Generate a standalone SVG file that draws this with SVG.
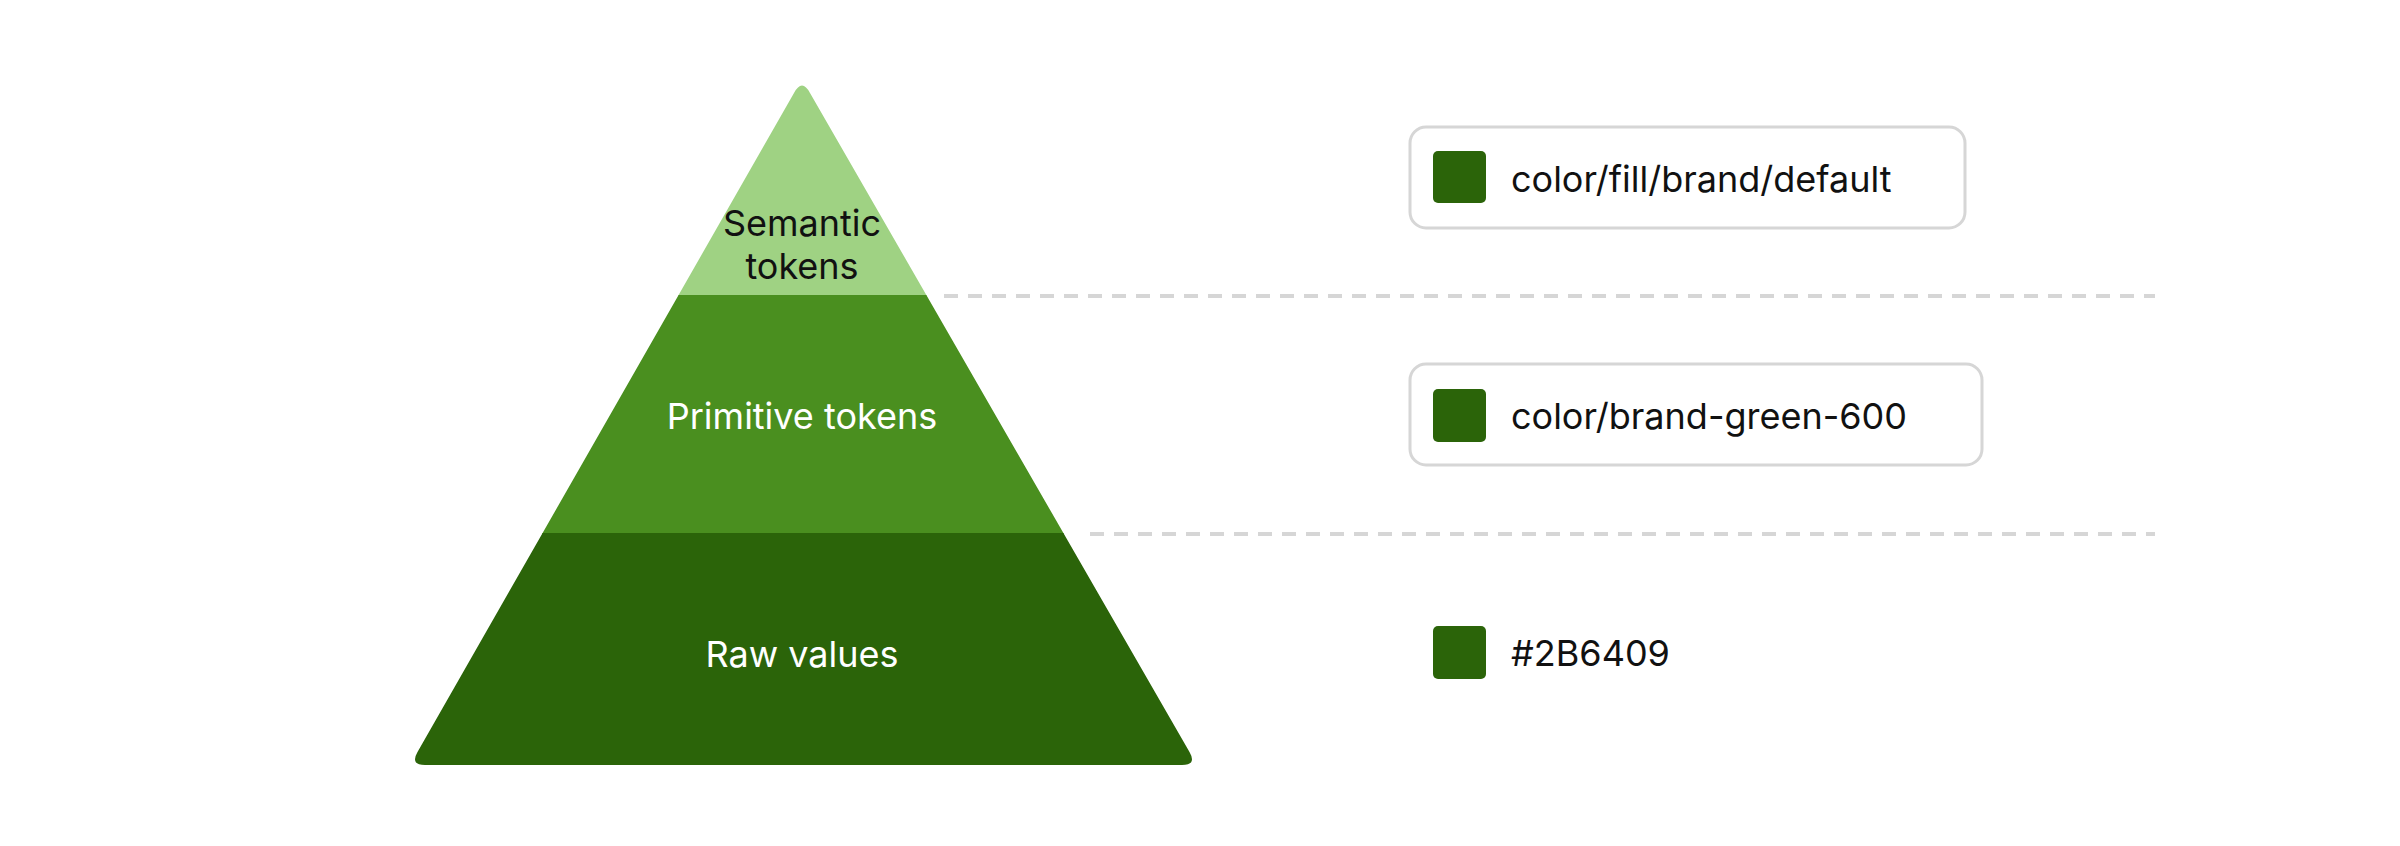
<svg xmlns="http://www.w3.org/2000/svg" width="2400" height="846" viewBox="0 0 2400 846">
<style>
.lbl{font-family:Inter,"Liberation Sans",sans-serif;font-size:36px;text-anchor:middle}
.tok{font-family:Inter,"Liberation Sans",sans-serif;font-size:36px;fill:#111}
.box{fill:#fff;stroke:#d6d6d6;stroke-width:3}
.sw{fill:#2b6409}
.dash{stroke:#d6d6d6;stroke-width:4;stroke-dasharray:14 10;fill:none}
</style>
<defs>
<clipPath id="tri"><path d="M794,93 Q802,78 810,93 L1189.5,752 Q1197,765 1182,765 L425,765 Q410,765 417.5,752 Z"/></clipPath>
</defs>
<rect width="2400" height="846" fill="#fff"/>
<g id="pyramid" clip-path="url(#tri)">
<g id="semantic"><rect x="380" y="60" width="850" height="236" fill="#9fd283"/></g>
<g id="primitive"><rect x="380" y="295" width="850" height="239" fill="#4a8f1f"/></g>
<g id="raw"><rect x="380" y="533" width="850" height="240" fill="#2b6409"/></g>
</g>
<text class="lbl" x="802" y="236" fill="#111">Semantic</text>
<text class="lbl" x="802" y="279" fill="#111">tokens</text>
<text class="lbl" x="802" y="429" fill="#fff">Primitive tokens</text>
<text class="lbl" x="802" y="667" fill="#fff">Raw values</text>
<g id="connectors">
<line class="dash" x1="944" y1="296" x2="2155" y2="296"/>
<line class="dash" x1="1090" y1="534" x2="2155" y2="534"/>
</g>
<g id="token1"><rect class="box" x="1410" y="127" width="555" height="101" rx="16"/><rect class="sw" x="1433" y="151" width="53" height="52" rx="5"/><text class="tok" x="1511" y="192">color/fill/brand/default</text></g>
<g id="token2"><rect class="box" x="1410" y="364" width="572" height="101" rx="16"/><rect class="sw" x="1433" y="389" width="53" height="53" rx="5"/><text class="tok" x="1511" y="429">color/brand-green-600</text></g>
<g id="token3"><rect class="sw" x="1433" y="626" width="53" height="53" rx="5"/><text class="tok" x="1511" y="666">#2B6409</text></g>
</svg>
